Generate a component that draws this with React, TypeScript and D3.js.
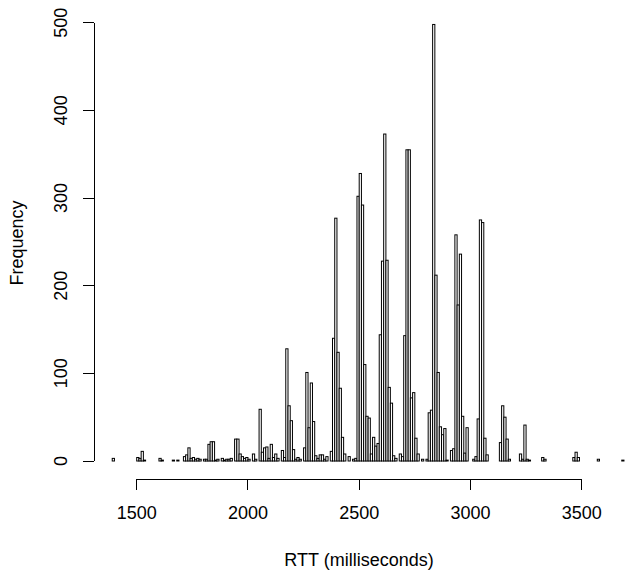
import React, { useRef, useEffect } from 'react';
import * as d3 from 'd3';

// histogram breaks: 10 ms bins starting at 1310 ms
const firstBreak = 1310;
const binWidth = 10;

// counts per bin, one row per 100 ms (first row starts at 1310, last row ends at 3690)
const counts = [
  0, 0, 0, 0, 0, 0, 0, 0, 3,
  0, 0, 0, 0, 0, 0, 0, 0, 0, 0,
  4, 3, 11, 1, 0, 0, 0, 0, 0, 0,
  3, 1, 0, 0, 0, 0, 1, 0, 1, 0,
  0, 5, 7, 15, 3, 4, 2, 3, 2, 0,
  2, 2, 19, 22, 22, 1, 2, 0, 3, 1,
  2, 2, 3, 0, 25, 25, 8, 5, 3, 4,
  2, 0, 8, 2, 0, 59, 10, 15, 16, 3,
  19, 4, 8, 3, 0, 12, 4, 128, 63, 46,
  13, 2, 4, 2, 0, 15, 101, 38, 89, 45,
  6, 3, 7, 7, 2, 5, 0, 11, 140, 277,
  124, 83, 27, 8, 0, 5, 0, 2, 3, 302,
  328, 292, 110, 51, 49, 8, 27, 17, 20, 144,
  228, 373, 229, 84, 66, 6, 3, 0, 8, 5,
  143, 355, 355, 72, 78, 26, 8, 0, 2, 0,
  2, 55, 58, 498, 212, 101, 39, 30, 37, 1,
  0, 12, 14, 258, 178, 236, 51, 9, 38, 0,
  0, 2, 5, 48, 275, 272, 26, 7, 0, 0,
  0, 0, 0, 21, 63, 50, 25, 2, 0, 0,
  0, 0, 8, 2, 41, 2, 1, 0, 0, 0,
  0, 0, 4, 2, 0, 0, 0, 0, 0, 0,
  0, 0, 0, 0, 0, 0, 4, 10, 4, 0,
  0, 0, 0, 0, 0, 0, 0, 2, 0, 0,
  0, 0, 0, 0, 0, 0, 0, 0, 1,
];

const xTicks = [1500, 2000, 2500, 3000, 3500];
const yTicks = [0, 100, 200, 300, 400, 500];

const xLabel = 'RTT (milliseconds)';
const yLabel = 'Frequency';

const RttHistogram = () => {
  const ref = useRef<SVGSVGElement>(null);

  useEffect(() => {
    const width = 633;
    const height = 575;
    const font = '"Liberation Sans", Arial, Helvetica, sans-serif';
    const fontSize = 18;

    const svg = d3.select(ref.current);
    svg.selectAll('*').remove();
    svg.attr('width', width).attr('height', height);

    // plot region is 94..624 px wide, axis drawn at its edges
    const x = d3.scaleLinear().domain([1500, 3500]).range([136.7, 581.7]);
    const y = d3.scaleLinear().domain([0, 500]).range([461, 22.7]);

    const bins = counts.map((c, i) => ({
      x0: firstBreak + i * binWidth,
      x1: firstBreak + (i + 1) * binWidth,
      count: c,
    }));

    // bars (R hist style: open rectangles)
    svg.append('g')
      .selectAll('rect')
      .data(bins)
      .enter().append('rect')
      .attr('x', (d) => x(d.x0))
      .attr('width', (d) => x(d.x1) - x(d.x0))
      .attr('y', (d) => y(d.count))
      .attr('height', (d) => y(0) - y(d.count))
      .attr('fill', '#fff')
      .attr('stroke', '#000')
      .attr('stroke-width', 1);

    // x axis
    const xAxisY = 479;
    const gx = svg.append('g').attr('shape-rendering', 'crispEdges');
    gx.append('line')
      .attr('x1', x(xTicks[0])).attr('x2', x(xTicks[xTicks.length - 1]))
      .attr('y1', xAxisY).attr('y2', xAxisY)
      .attr('stroke', '#000');
    gx.selectAll('line.tick')
      .data(xTicks)
      .enter().append('line')
      .attr('class', 'tick')
      .attr('x1', (d) => x(d)).attr('x2', (d) => x(d))
      .attr('y1', xAxisY).attr('y2', xAxisY + 11)
      .attr('stroke', '#000');
    svg.append('g')
      .selectAll('text')
      .data(xTicks)
      .enter().append('text')
      .attr('x', (d) => x(d))
      .attr('y', 519)
      .attr('text-anchor', 'middle')
      .style('font-family', font)
      .style('font-size', `${fontSize}px`)
      .text((d) => d);

    // y axis
    const yAxisX = 94;
    const gy = svg.append('g').attr('shape-rendering', 'crispEdges');
    gy.append('line')
      .attr('x1', yAxisX).attr('x2', yAxisX)
      .attr('y1', y(yTicks[0])).attr('y2', y(yTicks[yTicks.length - 1]))
      .attr('stroke', '#000');
    gy.selectAll('line.tick')
      .data(yTicks)
      .enter().append('line')
      .attr('class', 'tick')
      .attr('x1', yAxisX - 11).attr('x2', yAxisX)
      .attr('y1', (d) => y(d)).attr('y2', (d) => y(d))
      .attr('stroke', '#000');
    svg.append('g')
      .selectAll('text')
      .data(yTicks)
      .enter().append('text')
      .attr('transform', (d) => `translate(67, ${y(d)}) rotate(-90)`)
      .attr('text-anchor', 'middle')
      .style('font-family', font)
      .style('font-size', `${fontSize}px`)
      .text((d) => d);

    // axis titles
    svg.append('text')
      .attr('x', 359)
      .attr('y', 566)
      .attr('text-anchor', 'middle')
      .style('font-family', font)
      .style('font-size', `${fontSize}px`)
      .text(xLabel);

    svg.append('text')
      .attr('transform', 'translate(23, 243) rotate(-90)')
      .attr('text-anchor', 'middle')
      .style('font-family', font)
      .style('font-size', `${fontSize}px`)
      .text(yLabel);
  }, []);

  return (
    <svg
      ref={ref}
      style={{ position: 'absolute', left: 0, top: 0, display: 'block', background: '#fff' }}
    />
  );
};

export default function App() {
  return <RttHistogram />;
}
